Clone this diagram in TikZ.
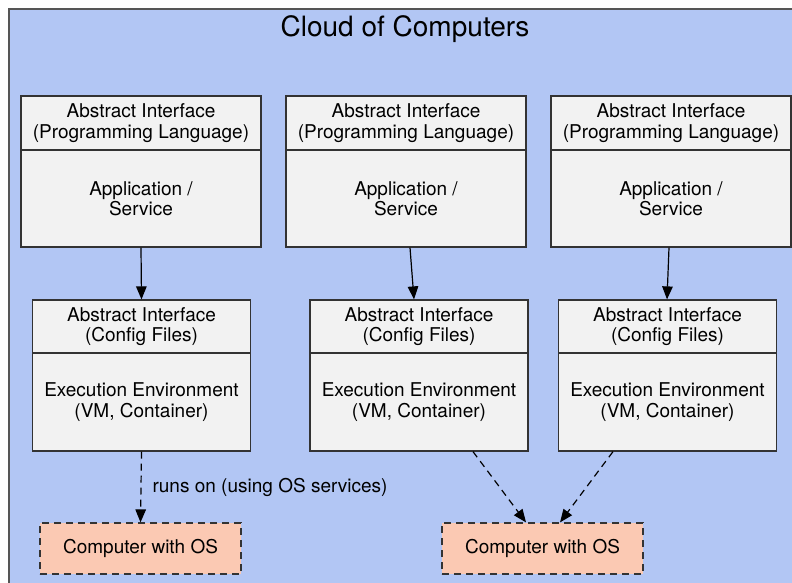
\documentclass[tikz,border=0pt]{standalone}
\usepackage{fontspec}
\setmainfont{TeX Gyre Heros}
\usetikzlibrary{arrows.meta}
\definecolor{clusterblue}{HTML}{B2C6F4}
\definecolor{clusterline}{HTML}{555555}
\definecolor{boxgray}{HTML}{F2F2F2}
\definecolor{hostsalmon}{HTML}{FBC9B3}
\definecolor{edgegray}{HTML}{333333}

\begin{document}
\begin{tikzpicture}[x=1pt,y=-1pt,
  every node/.style={font=\fontsize{19}{20.5}\selectfont, align=center, inner sep=0pt},
  part/.style={draw=edgegray, fill=boxgray, line width=1.2pt},
  apphead/.style={part, minimum width=240pt, minimum height=54pt},
  appbody/.style={part, minimum width=240pt, minimum height=97pt},
  envhead/.style={part, minimum width=218pt, minimum height=53pt},
  envbody/.style={part, minimum width=218pt, minimum height=98pt},
  host/.style={draw=edgegray, fill=hostsalmon, line width=1.2pt,
    dash pattern=on 7pt off 5pt, minimum width=201pt, minimum height=51pt},
  link/.style={-{Triangle[length=13pt,width=10.5pt]}, line width=1.2pt, draw=black},
  runson/.style={link, dash pattern=on 7pt off 5pt}]

% page and cluster background
\useasboundingbox (0,0) rectangle (792,583);
\fill[white] (0,0) rectangle (792,583);
\clip (0,0) rectangle (792,583);
\draw[draw=clusterline, fill=clusterblue, line width=1.2pt] (9,9) rectangle (820,620);
\node[font=\fontsize{28}{30}\selectfont] (title) at (405,29.5) {Cloud of Computers};

% application / service layer
\node[apphead] (a1h) at (141,123) {Abstract Interface\\(Programming Language)};
\node[appbody] (a1)  at (141,198.5) {Application /\\Service};
\node[apphead] (a2h) at (406,123) {Abstract Interface\\(Programming Language)};
\node[appbody] (a2)  at (406,198.5) {Application /\\Service};
\node[apphead] (a3h) at (671,123) {Abstract Interface\\(Programming Language)};
\node[appbody] (a3)  at (671,198.5) {Application /\\Service};

% execution environment layer
\node[envhead] (e1h) at (141.5,326.5) {Abstract Interface\\(Config Files)};
\node[envbody] (e1)  at (141.5,402) {Execution Environment\\(VM, Container)};
\node[envhead] (e2h) at (419,326.5) {Abstract Interface\\(Config Files)};
\node[envbody] (e2)  at (419,402) {Execution Environment\\(VM, Container)};
\node[envhead] (e3h) at (667.5,326.5) {Abstract Interface\\(Config Files)};
\node[envbody] (e3)  at (667.5,402) {Execution Environment\\(VM, Container)};

% hosts
\node[host] (c1) at (140.5,548.5) {Computer with OS};
\node[host] (c2) at (542.5,548.5) {Computer with OS};

% connectors
\draw[link] (a1.south) -- (e1h.north);
\draw[link] ([xshift=4pt]a2.south) -- ([xshift=-5pt]e2h.north);
\draw[link] ([xshift=-2pt]a3.south) -- ([xshift=-0.5pt]e3h.north);

\draw[runson] (e1.south) -- node[midway, right=11pt] {runs on (using OS services)} (c1.north);
\draw[runson] ([xshift=54pt]e2.south) -- ([xshift=-16.5pt]c2.north);
\draw[runson] ([xshift=-54.5pt]e3.south) -- ([xshift=17.5pt]c2.north);
\end{tikzpicture}
\end{document}
